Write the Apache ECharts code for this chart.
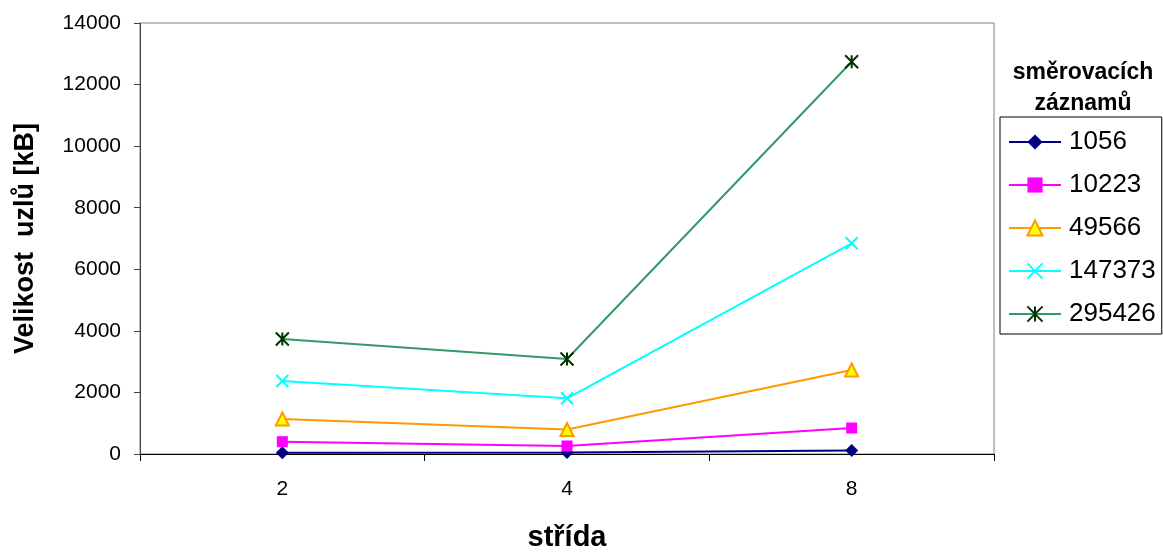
<!DOCTYPE html>
<html>
<head>
<meta charset="utf-8">
<script src="https://cdn.jsdelivr.net/npm/echarts@6/dist/echarts.min.js"></script>
<style>
  html, body { margin: 0; padding: 0; background: #fff; }
  #chart { width: 1163px; height: 553px; }
</style>
</head>
<body>
<div id="chart"></div>
<script>
// Stride values on the x axis
const categories = ['2', '4', '8'];

// Node size in kB for each routing-table size
const s1056 = [40, 45, 110];
const s10223 = [400, 260, 845];
const s49566 = [1137, 795, 2729];
const s147373 = [2371, 1809, 6844];
const s295426 = [3735, 3086, 12743];

const seriesNames = ['1056', '10223', '49566', '147373', '295426'];
const seriesData = [s1056, s10223, s49566, s147373, s295426];

const FONT = '"Liberation Sans", Arial, sans-serif';

const styles = [
  { line: '#000080', symbol: 'diamond', size: 13, item: { color: '#000080' } },
  { line: '#FF00FF', symbol: 'rect', size: 11, item: { color: '#FF00FF' } },
  { line: '#FF9900', symbol: 'triangle', size: 13, item: { color: '#FFFF00', borderColor: '#FF9900', borderWidth: 2 } },
  { line: '#00FFFF', symbol: 'path://M0,0L10,10M10,0L0,10', size: 12, item: { color: 'none', borderColor: '#00FFFF', borderWidth: 2 } },
  { line: '#339966', symbol: 'path://M0,0L10,10M10,0L0,10M5,0L5,10', size: 13, item: { color: 'none', borderColor: '#003300', borderWidth: 2 } }
];

const chart = echarts.init(document.getElementById('chart'), null, { renderer: 'canvas' });

chart.setOption({
  backgroundColor: '#ffffff',
  animation: false,
  grid: {
    left: 140, right: 169, top: 23, bottom: 99,
    containLabel: false,
    outerBoundsMode: 'none',
    show: true, borderColor: '#808080', borderWidth: 1, backgroundColor: '#ffffff'
  },
  xAxis: {
    type: 'category',
    data: categories,
    boundaryGap: true,
    name: 'střída',
    nameLocation: 'middle',
    nameGap: 69,
    nameTextStyle: { fontFamily: FONT, fontSize: 29, fontWeight: 'bold', color: '#000' },
    axisLine: { lineStyle: { color: '#000', width: 1 } },
    axisTick: { show: true, alignWithLabel: false, length: 7, lineStyle: { color: '#000' } },
    axisLabel: { fontFamily: FONT, fontSize: 21, color: '#000', margin: 25 },
    splitLine: { show: false }
  },
  yAxis: {
    type: 'value',
    min: 0, max: 14000, interval: 2000,
    name: 'Velikost  uzlů [kB]',
    nameLocation: 'middle',
    nameGap: 101,
    nameRotate: 90,
    nameTextStyle: { fontFamily: FONT, fontSize: 27, fontWeight: 'bold', color: '#000' },
    axisLine: { show: true, lineStyle: { color: '#404040', width: 1 } },
    axisTick: { show: true, length: 6, lineStyle: { color: '#404040' } },
    axisLabel: { fontFamily: FONT, fontSize: 21, color: '#000', margin: 19, formatter: (v) => String(v) },
    splitLine: { show: false }
  },
  legend: {
    orient: 'vertical',
    left: 1000, top: 117,
    padding: [12, 6, 7, 8],
    itemWidth: 52, itemHeight: 19, itemGap: 17,
    borderColor: '#000', borderWidth: 1,
    textStyle: { fontFamily: FONT, fontSize: 26, color: '#000', padding: [0, 0, 0, 3] },
    data: seriesNames
  },
  graphic: [
    { type: 'text', x: 1083, y: 61,
      style: { text: 'směrovacích', textAlign: 'center', fontFamily: FONT, fontSize: 23, fontWeight: 'bold', fill: '#000' } },
    { type: 'text', x: 1083, y: 92,
      style: { text: 'záznamů', textAlign: 'center', fontFamily: FONT, fontSize: 23, fontWeight: 'bold', fill: '#000' } }
  ],
  series: seriesNames.map((name, i) => ({
    name: name,
    type: 'line',
    data: seriesData[i],
    symbol: styles[i].symbol,
    symbolSize: styles[i].size,
    showAllSymbol: true,
    lineStyle: { color: styles[i].line, width: 2 },
    itemStyle: styles[i].item,
    z: 2 + i
  }))
});
</script>
</body>
</html>
